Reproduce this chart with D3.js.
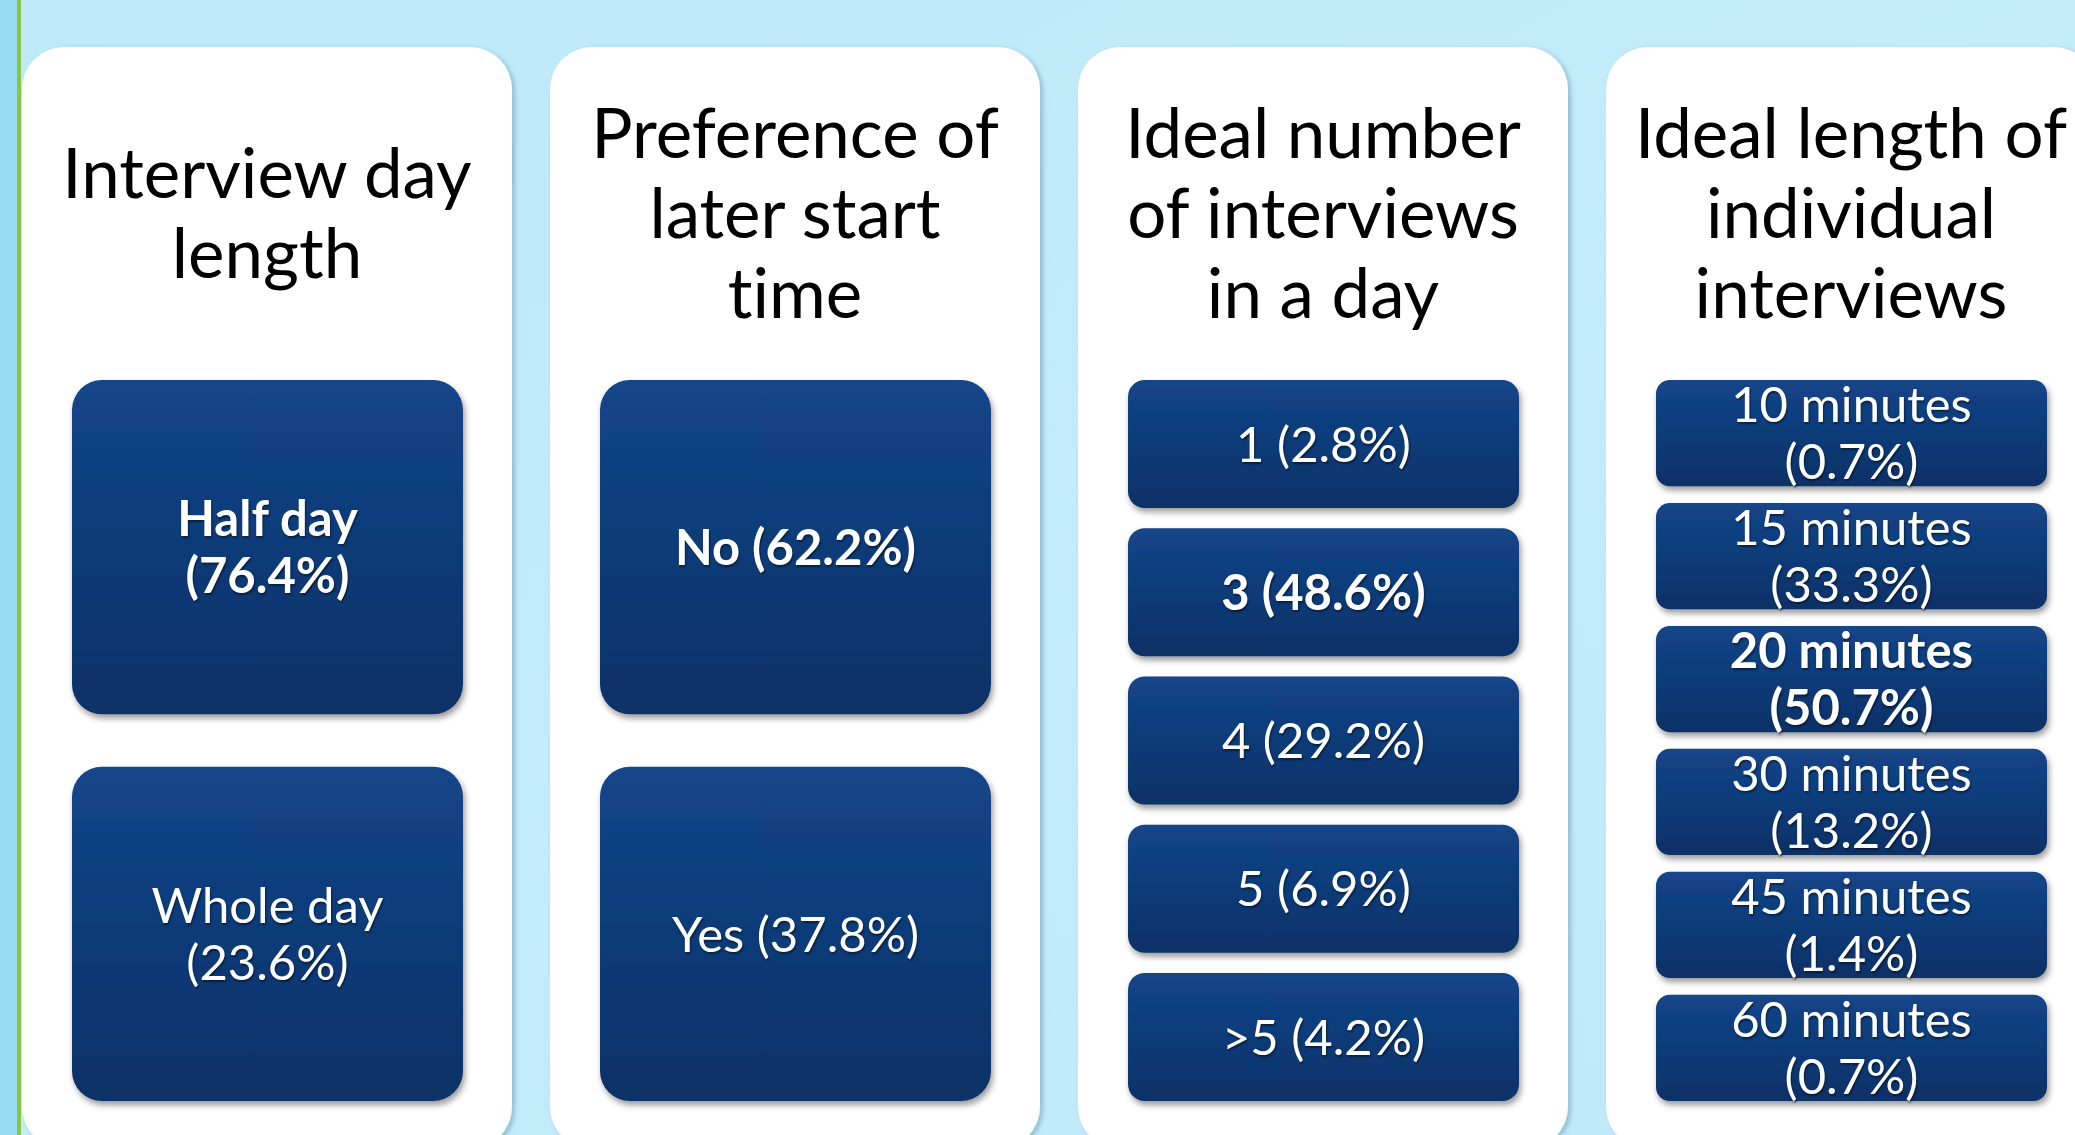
<!DOCTYPE html>
<html>
<head>
<meta charset="utf-8">
<script src="https://cdn.jsdelivr.net/npm/d3@7"></script>
<style>
  body { margin: 0; background: #c1ebfa; }
  svg { display: block; }
  text { font-family: Lato, "Open Sans", sans-serif; font-variant-ligatures: none; }
  .opt { text-shadow: 1px 2px 2px rgba(0, 0, 0, 0.45); }
</style>
</head>
<body>
<svg id="chart"></svg>
<script>
var width = 2075;
var height = 1135;

// panel titles, one array of lines per panel
var titles = [
    ["Interview day", "length"],
    ["Preference of", "later start", "time"],
    ["Ideal number", "of interviews", "in a day"],
    ["Ideal length of", "individual", "interviews"]
];

var dayLengthLabels = ["Half day", "Whole day"];
var dayLengthValues = [76.4, 23.6];

var laterStartLabels = ["No", "Yes"];
var laterStartValues = [62.2, 37.8];

var interviewCountLabels = ["1", "3", "4", "5", ">5"];
var interviewCountValues = [2.8, 48.6, 29.2, 6.9, 4.2];

var interviewLengthLabels = ["10 minutes", "15 minutes", "20 minutes", "30 minutes", "45 minutes", "60 minutes"];
var interviewLengthValues = [0.7, 33.3, 50.7, 13.2, 1.4, 0.7];

var panels = [
    { labels: dayLengthLabels, values: dayLengthValues, wrap: true },
    { labels: laterStartLabels, values: laterStartValues, wrap: false },
    { labels: interviewCountLabels, values: interviewCountValues, wrap: false },
    { labels: interviewLengthLabels, values: interviewLengthValues, wrap: true }
];

var svg = d3.select("#chart")
    .attr("width", width)
    .attr("height", height);

var defs = svg.append("defs");

var bg = defs.append("linearGradient")
    .attr("id", "bg")
    .attr("x1", 0).attr("y1", 0).attr("x2", 1).attr("y2", 1);
bg.append("stop").attr("offset", "0%").attr("stop-color", "#bde9f9");
bg.append("stop").attr("offset", "50%").attr("stop-color", "#c4ecfa");
bg.append("stop").attr("offset", "100%").attr("stop-color", "#bfeafa");

var boxFill = defs.append("linearGradient")
    .attr("id", "boxFill")
    .attr("x1", 0).attr("y1", 0).attr("x2", 0).attr("y2", 1);
boxFill.append("stop").attr("offset", "0%").attr("stop-color", "#134589");
boxFill.append("stop").attr("offset", "100%").attr("stop-color", "#0b3167");

defs.append("filter").attr("id", "cardShadow")
    .attr("x", "-5%").attr("y", "-5%").attr("width", "110%").attr("height", "110%")
    .append("feDropShadow")
    .attr("dx", 3).attr("dy", 2).attr("stdDeviation", 2.5)
    .attr("flood-color", "#4f8aa3").attr("flood-opacity", 0.45);

defs.append("filter").attr("id", "boxShadow")
    .attr("x", "-5%").attr("y", "-10%").attr("width", "110%").attr("height", "130%")
    .append("feDropShadow")
    .attr("dx", 2).attr("dy", 4).attr("stdDeviation", 3)
    .attr("flood-color", "#000").attr("flood-opacity", 0.4);

// background, left strip and green rule
svg.append("rect")
    .attr("width", width).attr("height", height)
    .attr("fill", "url(#bg)");
svg.append("rect")
    .attr("width", 17).attr("height", height)
    .attr("fill", "#97dcf2");
svg.append("rect")
    .attr("x", 17).attr("width", 4).attr("height", height)
    .attr("fill", "#8cc63f");

// cards across
var x = d3.scaleBand()
    .domain(d3.range(panels.length))
    .range([22, 2096])
    .paddingInner(0.072);

var cardTop = 47;
var cardBottom = 1149;
var titleMid = 238;
var titleLine = 80;

var card = svg.selectAll("g.card")
    .data(panels)
    .enter().append("g")
    .attr("class", "card")
    .attr("transform", function(d, i) { return "translate(" + x(i) + ",0)"; });

card.append("rect")
    .attr("y", cardTop)
    .attr("width", x.bandwidth())
    .attr("height", cardBottom - cardTop)
    .attr("rx", 42)
    .attr("fill", "#fff")
    .attr("filter", "url(#cardShadow)");

card.append("text")
    .attr("text-anchor", "middle")
    .attr("font-size", 69)
    .attr("fill", "#000")
    .each(function(d, i) {
        var lines = titles[i];
        var t = d3.select(this);
        lines.forEach(function(line, j) {
            t.append("tspan")
                .attr("x", x.bandwidth() / 2)
                .attr("y", titleMid + (j - (lines.length - 1) / 2) * titleLine)
                .text(line);
        });
    });

// boxes inside each card
var inset = 50;
var boxW = x.bandwidth() - 99;

card.each(function(p) {
    var g = d3.select(this);
    var y = d3.scaleBand()
        .domain(d3.range(p.values.length))
        .range([380, 1101])
        .paddingInner(0.136);
    var top = d3.max(p.values);
    var rows = p.labels.map(function(l, i) {
        return { label: l, value: p.values[i], i: i, bold: p.values[i] === top };
    });

    var box = g.selectAll("g.box")
        .data(rows)
        .enter().append("g")
        .attr("class", "box")
        .attr("transform", function(d) { return "translate(" + inset + "," + y(d.i) + ")"; });

    box.append("rect")
        .attr("width", boxW)
        .attr("height", y.bandwidth())
        .attr("rx", Math.min(30, y.bandwidth() * 0.13))
        .attr("fill", "url(#boxFill)")
        .attr("filter", "url(#boxShadow)");

    var lh = 57;
    box.append("text")
        .attr("class", "opt")
        .attr("text-anchor", "middle")
        .attr("font-size", 49)
        .attr("font-weight", function(d) { return d.bold ? 700 : 400; })
        .attr("fill", "#fff")
        .each(function(d) {
            var pct = "(" + d.value.toFixed(1) + "%)";
            var lines = p.wrap ? [d.label, pct] : [d.label + " " + pct];
            var t = d3.select(this);
            lines.forEach(function(line, j) {
                t.append("tspan")
                    .attr("x", boxW / 2)
                    .attr("y", y.bandwidth() / 2 + (j - (lines.length - 1) / 2) * lh)
                    .attr("dy", "0.36em")
                    .text(line);
            });
        });
});
</script>
</body>
</html>
